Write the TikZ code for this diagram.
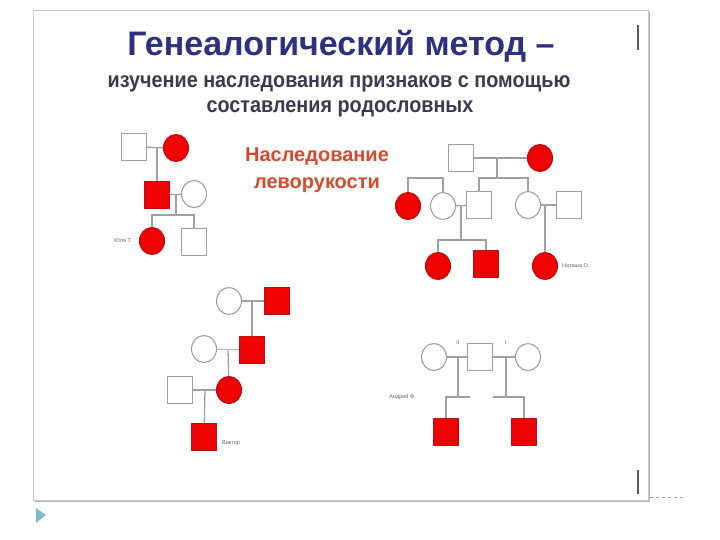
\documentclass[tikz,border=0pt]{standalone}
\usepackage{fontspec}
\setmainfont{Liberation Sans}
\newfontfamily\narrowfont[FakeStretch=0.9]{Liberation Sans}
\usetikzlibrary{shapes.geometric}
\definecolor{titleblue}{HTML}{2E3182}
\definecolor{subgray}{HTML}{3B3B4F}
\definecolor{redtext}{HTML}{D84A2C}
\definecolor{pfill}{HTML}{EE0000}
\definecolor{pdraw}{HTML}{B81010}
\definecolor{lgray}{HTML}{A0A0A0}
\definecolor{framegray}{HTML}{C8C8C8}
\tikzset{
  sq/.style={draw=lgray, line width=1.1pt, fill=white, rectangle, minimum width=25pt, minimum height=27pt, inner sep=0pt},
  rsq/.style={sq, draw=pdraw, fill=pfill},
  ci/.style={draw=lgray, line width=1.1pt, fill=white, ellipse, minimum width=25pt, minimum height=27pt, inner sep=0pt},
  rci/.style={ci, draw=pdraw, fill=pfill},
  ln/.style={draw=lgray, line width=1.3pt},
  lab/.style={font=\fontsize{5.5}{6}\selectfont, text=gray!80!black, inner sep=0pt}
}
\begin{document}
\begin{tikzpicture}[x=1pt,y=-1pt]
\useasboundingbox (0,0) rectangle (720,540);
\fill[white] (0,0) rectangle (720,540);
% slide frame
\fill[gray!60] (35,12) rectangle (650,502);
\draw[framegray, fill=white] (33,10) rectangle (648,500);
\draw[gray!70!black, line width=1.2pt] (638,25) -- (638,50);
\draw[gray!70!black, line width=1.2pt] (638,470) -- (638,494);
\draw[gray!70, dashed, line width=0.5pt] (650,497) -- (686,497);
\fill[blue!25!cyan!40!gray!70] (36,508) -- (46,515) -- (36,523) -- cycle;
% titles
\node[text=titleblue, font=\fontsize{34}{34}\selectfont\bfseries, inner sep=0pt, anchor=base] (t1) at (341,56) {Генеалогический метод –};
\node[text=subgray, font=\narrowfont\fontsize{22}{22}\selectfont\bfseries, inner sep=0pt, anchor=base] (t2) at (339,88) {изучение наследования признаков с помощью};
\node[text=subgray, font=\narrowfont\fontsize{22}{22}\selectfont\bfseries, inner sep=0pt, anchor=base] (t3) at (340,113) {составления родословных};
\node[text=redtext, font=\fontsize{20}{27}\selectfont\bfseries, align=center, inner sep=0pt] (t4) at (317,170) {Наследование\\леворукости};
% pedigree 1
\node[sq] (a1) at (134,147) {};
\node[rci] (a2) at (176,148) {};
\draw[ln] (a1) -- (a2);
\coordinate (a12) at (157,148);
\node[rsq] (a3) at (157,195) {};
\draw[ln] (a12) -- (a3);
\node[ci] (a4) at (194,194) {};
\draw[ln] (a3) -- (a4);
\coordinate (a34) at (176,195);
\coordinate (a34d) at (176,215);
\node[rci] (a5) at (152,241) {};
\node[sq] (a6) at (194,242) {};
\draw[ln] (a34) -- (a34d);
\draw[ln] (a5) |- (a34d) -| (a6);
\node[lab, anchor=east] (la) at (132,241) {Юля Т.};
% pedigree 2
\node[sq] (b1) at (461,158) {};
\node[rci] (b2) at (540,158) {};
\draw[ln] (b1) -- (b2);
\coordinate (b12) at (497,158);
\coordinate (b12d) at (497,178);
\draw[ln] (b12) -- (b12d);
\node[rci] (b3) at (408,206) {};
\node[ci] (b4) at (443,206) {};
\node[sq] (b5) at (479,205) {};
\node[ci] (b6) at (528,205) {};
\node[sq] (b7) at (569,205) {};
\coordinate (bl) at (425,178);
\draw[ln] (b3) |- (bl) -| (b4);
\draw[ln] (b5) |- (b12d) -| (b6);
\draw[ln] (b4) -- (b5);
\coordinate (b45) at (461,206);
\coordinate (b45d) at (461,240);
\draw[ln] (b45) -- (b45d);
\node[rci] (b8) at (438,266) {};
\node[rsq] (b9) at (486,264) {};
\draw[ln] (b8) |- (b45d) -| (b9);
\draw[ln] (b6) -- (b7);
\coordinate (b67) at (545,206);
\node[rci] (b10) at (545,266) {};
\draw[ln] (b67) -- (b10);
\node[lab, anchor=west] (lb) at (562,266) {Наташа О.};
% pedigree 3
\node[ci] (c1) at (229,301) {};
\node[rsq] (c2) at (277,301) {};
\draw[ln] (c1) -- (c2);
\coordinate (c12) at (252,302);
\node[rsq] (c3) at (252,350) {};
\draw[ln] (c12) -- (c3);
\node[ci] (c4) at (204,349) {};
\draw[ln, draw=lgray!70] (c4) -- (c3);
\coordinate (c43) at (228,350);
\node[rci] (c5) at (229,390) {};
\draw[ln] (c43) -- (c5);
\node[sq] (c6) at (180,390) {};
\draw[ln] (c6) -- (c5);
\coordinate (c65) at (205,390);
\node[rsq] (c7) at (204,437) {};
\draw[ln] (c65) -- (c7);
\node[lab, anchor=west] (lc) at (222,443) {Виктор};
% pedigree 4
\node[ci] (d1) at (434,357) {};
\node[sq] (d2) at (480,357) {};
\node[ci] (d3) at (528,357) {};
\draw[ln] (d1) -- (d2);
\draw[ln] (d2) -- (d3);
\coordinate (d12) at (458,357);
\coordinate (d12d) at (458,397);
\coordinate (d23) at (506,357);
\coordinate (d23d) at (506,397);
\draw[ln] (d12) -- (d12d);
\draw[ln] (d23) -- (d23d);
\node[rsq] (d4) at (446,432) {};
\node[rsq] (d5) at (524,432) {};
\coordinate (d4e) at (470,397);
\coordinate (d5e) at (493,397);
\draw[ln] (d4) |- (d4e);
\draw[ln] (d5) |- (d5e);
\node[lab] (l2) at (458,343) {II};
\node[lab] (l1) at (506,343) {I};
\node[lab, anchor=east] (ld) at (416,397) {Андрей Ф.};
\end{tikzpicture}
\end{document}
